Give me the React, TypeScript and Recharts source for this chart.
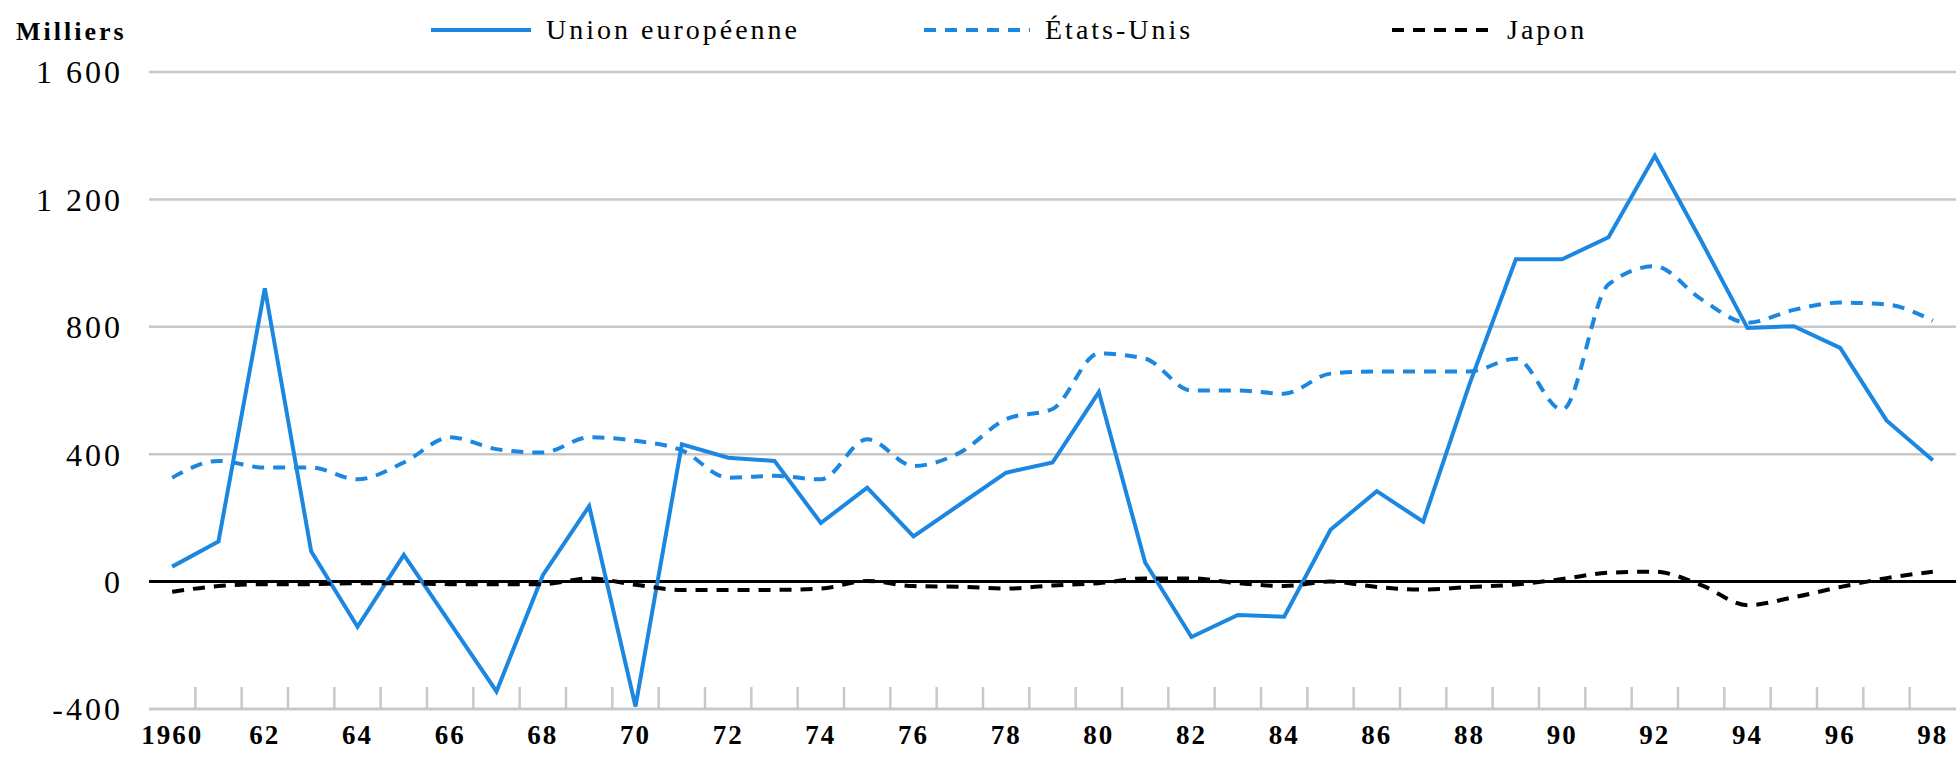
import React from "react";
import { CartesianGrid, Line, LineChart, ReferenceLine, XAxis, YAxis } from "recharts";

// Solde migratoire (milliers) — UE, États-Unis, Japon, 1960-1998
const years = [
  1960, 1961, 1962, 1963, 1964, 1965, 1966, 1967, 1968, 1969,
  1970, 1971, 1972, 1973, 1974, 1975, 1976, 1977, 1978, 1979,
  1980, 1981, 1982, 1983, 1984, 1985, 1986, 1987, 1988, 1989,
  1990, 1991, 1992, 1993, 1994, 1995, 1996, 1997, 1998,
];
const unionEuropeenne = [
  47, 126, 921, 95, -142, 84, -130, -345, 20, 237,
  -392, 431, 389, 379, 184, 295, 142, 242, 342, 374,
  595, 60, -174, -105, -110, 163, 284, 188, 620, 1012,
  1012, 1081, 1337, 1070, 796, 802, 734, 506, 381,
];
const etatsUnis = [
  326, 379, 358, 358, 321, 374, 453, 416, 405, 453,
  442, 412, 326, 332, 321, 447, 363, 405, 510, 542,
  716, 700, 600, 600, 590, 653, 660, 660, 660, 700,
  540, 933, 990, 887, 813, 853, 876, 870, 819,
];
const japon = [
  -32, -14, -8, -8, -5, -5, -8, -8, -8, 10,
  -10, -26, -26, -26, -22, 2, -14, -16, -22, -12,
  -5, 10, 10, -5, -14, 0, -17, -25, -17, -9,
  8, 28, 31, -11, -74, -49, -17, 11, 31,
];
const yTicks = [-400, 0, 400, 800, 1200, 1600];

const data = years.map((year, i) => ({
  year,
  ue: unionEuropeenne[i],
  us: etatsUnis[i],
  jp: japon[i],
}));

const W = 1958;
const H = 757;
const M = { top: 72, right: 2, bottom: 0, left: 0 };
const Y_AXIS_W = 149;
const X_AXIS_H = 48;
const HALF_BAND = (W - M.left - M.right - Y_AXIS_W) / years.length / 2;

const BLUE = "#1c87e0";
const GRID = "#c8c8c8";
const SERIF = '"Liberation Serif", "Times New Roman", serif';

const fmtThousands = (v: number) =>
  Math.abs(v) >= 1000 ? `${Math.floor(v / 1000)} ${String(v % 1000).padStart(3, "0")}` : String(v);

type TickProps = { x?: number; y?: number; payload?: { value: number } };

// graduations entre les catégories + libellé une année sur deux
function YearTick({ x, y, payload }: TickProps) {
  if (x == null || y == null || !payload) return null;
  const yr = payload.value;
  return (
    <g>
      {yr < 1998 && (
        <line x1={x + HALF_BAND} x2={x + HALF_BAND} y1={y - 22} y2={y} stroke={GRID} strokeWidth={2.5} />
      )}
      {yr % 2 === 0 && (
        <text
          x={x}
          y={y + 35}
          textAnchor="middle"
          fontFamily={SERIF}
          fontWeight="bold"
          fontSize={27}
          letterSpacing={2}
          fill="#000"
        >
          {yr === 1960 ? "1960" : String(yr).slice(2)}
        </text>
      )}
    </g>
  );
}

function LegendItem({
  left,
  lineW,
  color,
  dash,
  label,
}: {
  left: number;
  lineW: number;
  color: string;
  dash?: string;
  label: string;
}) {
  return (
    <div style={{ position: "absolute", left, top: 12, display: "flex", alignItems: "center" }}>
      <svg width={lineW} height={36}>
        <line x1={0} x2={lineW} y1={18} y2={18} stroke={color} strokeWidth={4} strokeDasharray={dash} />
      </svg>
      <span style={{ marginLeft: 15, fontFamily: SERIF, fontSize: 28, letterSpacing: 3, color: "#000", lineHeight: "36px" }}>
        {label}
      </span>
    </div>
  );
}

export default function App() {
  return (
    <div style={{ position: "absolute", left: 0, top: 0, width: W, height: H, background: "#fff", overflow: "hidden" }}>
      <div
        style={{
          position: "absolute",
          left: 16,
          top: 18,
          fontFamily: SERIF,
          fontWeight: "bold",
          fontSize: 26,
          letterSpacing: 3,
          lineHeight: "28px",
        }}
      >
        Milliers
      </div>
      <LegendItem left={431} lineW={100} color={BLUE} label="Union européenne" />
      <LegendItem left={924} lineW={106} color={BLUE} dash="12 9" label="États-Unis" />
      <LegendItem left={1392} lineW={100} color="#000" dash="12 9" label="Japon" />

      <LineChart width={W} height={H} data={data} margin={M}>
        <CartesianGrid vertical={false} stroke={GRID} strokeWidth={2.5} />
        <XAxis
          dataKey="year"
          type="number"
          domain={[1959.5, 1998.5]}
          ticks={years}
          interval={0}
          height={X_AXIS_H}
          tickSize={0}
          tickMargin={0}
          tickLine={false}
          axisLine={{ stroke: GRID, strokeWidth: 2.5 }}
          tick={<YearTick />}
        />
        <YAxis
          type="number"
          domain={[-400, 1600]}
          ticks={yTicks}
          width={Y_AXIS_W}
          axisLine={false}
          tickLine={false}
          tickSize={0}
          tickMargin={26}
          tickFormatter={fmtThousands}
          tick={{ fontSize: 32, fill: "#000", fontFamily: SERIF, letterSpacing: 3 }}
        />
        <ReferenceLine y={0} stroke="#000" strokeWidth={3} />
        <Line
          type="linear"
          dataKey="ue"
          stroke={BLUE}
          strokeWidth={4}
          dot={false}
          isAnimationActive={false}
        />
        <Line
          type="monotone"
          dataKey="us"
          stroke={BLUE}
          strokeWidth={4}
          strokeDasharray="12 9"
          dot={false}
          isAnimationActive={false}
        />
        <Line
          type="monotone"
          dataKey="jp"
          stroke="#000"
          strokeWidth={4}
          strokeDasharray="12 9"
          dot={false}
          isAnimationActive={false}
        />
      </LineChart>
    </div>
  );
}
